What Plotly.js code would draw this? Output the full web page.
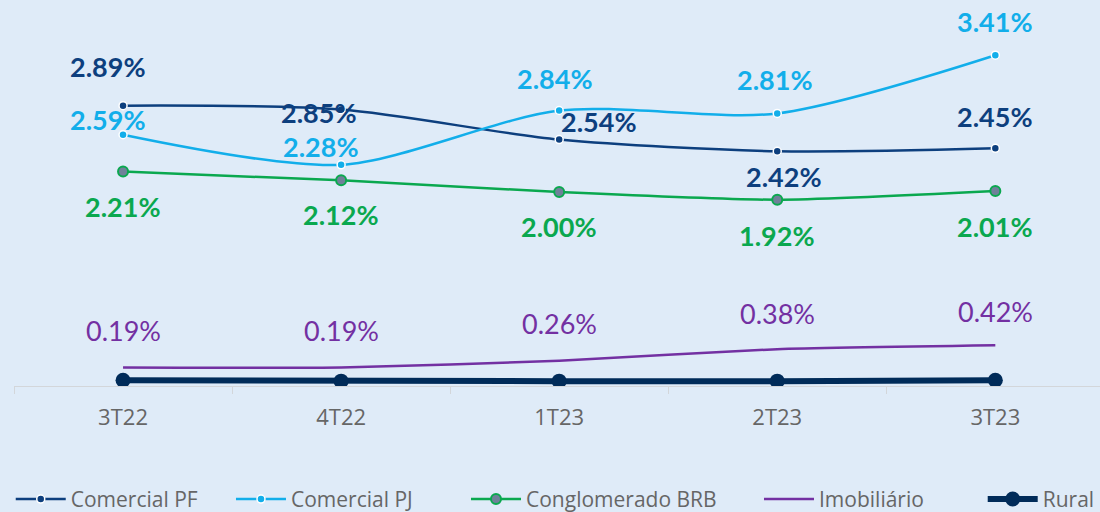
<!DOCTYPE html>
<html>
<head>
<meta charset="utf-8">
<script src="https://cdn.plot.ly/plotly-3.0.1.min.js"></script>
<style>html,body{margin:0;padding:0;background:#dfebf8;}#chart{width:1100px;height:512px;}</style>
</head>
<body>
<div id="chart"></div>
<script>
const categories = ["3T22", "4T22", "1T23", "2T23", "3T23"];
const comercialPF = [2.89, 2.85, 2.54, 2.42, 2.45];
const comercialPJ = [2.59, 2.28, 2.84, 2.81, 3.41];
const conglomeradoBRB = [2.21, 2.12, 2.00, 1.92, 2.01];
const imobiliario = [0.19, 0.19, 0.26, 0.38, 0.42];
const rural = [0.06, 0.05, 0.05, 0.05, 0.06];

const colors = {pf: "#0d3f7e", pj: "#12aeea", brb: "#0aa84f", imob: "#7330a2", rural: "#002b59"};

const traces = [
  {name: "Comercial PF", x: categories, y: comercialPF, mode: "lines+markers", legend: "legend",
   line: {color: colors.pf, width: 2.5, shape: "spline", smoothing: 0.8},
   marker: {color: colors.pf, size: 8, line: {color: "#ffffff", width: 1.5}}},
  {name: "Comercial PJ", x: categories, y: comercialPJ, mode: "lines+markers", legend: "legend2",
   line: {color: colors.pj, width: 2.5, shape: "spline", smoothing: 0.8},
   marker: {color: colors.pj, size: 8, line: {color: "#ffffff", width: 1.5}}},
  {name: "Conglomerado BRB", x: categories, y: conglomeradoBRB, mode: "lines+markers", legend: "legend3",
   line: {color: colors.brb, width: 2.5, shape: "spline", smoothing: 0.6},
   marker: {color: "#6f8199", size: 10, line: {color: colors.brb, width: 2}}},
  {name: "Imobiliário", x: categories, y: imobiliario, mode: "lines", legend: "legend4",
   line: {color: colors.imob, width: 2.5, shape: "spline", smoothing: 0.5}},
  {name: "Rural", x: categories, y: rural, mode: "lines+markers", legend: "legend5",
   line: {color: colors.rural, width: 6},
   marker: {color: colors.rural, size: 15}}
];

// label offsets (pixels) per point: [dx, dy] with dy measured downward
const labelOffsets = {
  pf: [[-15, -39], [-22, 3], [40, -18], [7, 25], [0, -32]],
  pj: [[-15, -15], [-20, -18], [-4, -32], [-2, -34], [0, -34]],
  brb: [[0, 35], [0, 34], [0, 35], [0, 36], [0, 35]],
  imob: [[0, -37], [0, -37], [0, -37], [0, -36], [0, -34]]
};
const labelSeries = [
  {key: "pf", data: comercialPF, bold: true},
  {key: "pj", data: comercialPJ, bold: true},
  {key: "brb", data: conglomeradoBRB, bold: true},
  {key: "imob", data: imobiliario, bold: false}
];
const annotations = [];
labelSeries.forEach(s => {
  s.data.forEach((v, i) => {
    const off = labelOffsets[s.key][i];
    annotations.push({
      x: categories[i], y: v, xref: "x", yref: "y",
      text: v.toFixed(2) + "%", showarrow: false,
      xshift: off[0], yshift: -off[1],
      xanchor: "center", yanchor: "middle",
      font: {family: "Lato, 'Open Sans', sans-serif", size: 27, color: colors[s.key], weight: s.bold ? 700 : 400}
    });
  });
});

const legendFont = {family: "'Open Sans', sans-serif", size: 21, color: "#666666"};
const legendX = [-0.003, 0.1998, 0.4162, 0.686, 0.892];
function legendAt(x) {
  return {orientation: "h", x: x, xanchor: "left", y: -0.247, yanchor: "top",
          font: legendFont, bgcolor: "rgba(0,0,0,0)", itemwidth: 50};
}

const layout = {
  width: 1100, height: 512,
  paper_bgcolor: "#dfebf8", plot_bgcolor: "#dfebf8",
  margin: {l: 14, r: 0, t: 10, b: 126, autoexpand: false},
  showlegend: true,
  hovermode: false,
  xaxis: {
    type: "category", range: [-0.5, 4.48], showgrid: false, zeroline: false,
    showline: true, linecolor: "#d3d6da", linewidth: 1,
    ticks: "outside", tickson: "boundaries", ticklen: 7, tickcolor: "#d3d6da",
    tickfont: {family: "'Open Sans', sans-serif", size: 22, color: "#666666"},
    ticklabelstandoff: 12, fixedrange: true, automargin: false
  },
  yaxis: {range: [0, 3.876], visible: false, showgrid: false, zeroline: false, fixedrange: true, automargin: false},
  legend: legendAt(legendX[0]),
  legend2: legendAt(legendX[1]),
  legend3: legendAt(legendX[2]),
  legend4: legendAt(legendX[3]),
  legend5: legendAt(legendX[4]),
  annotations: annotations
};

Plotly.newPlot("chart", traces, layout, {displayModeBar: false, staticPlot: true});
</script>
</body>
</html>
